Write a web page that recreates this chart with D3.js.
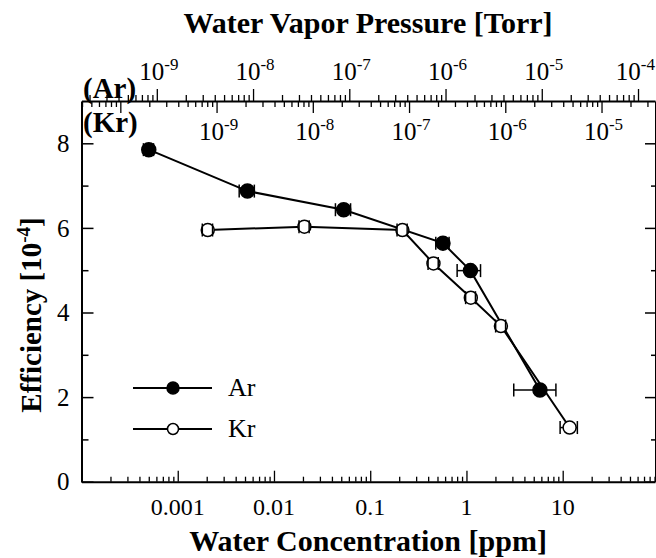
<!DOCTYPE html>
<html>
<head>
<meta charset="utf-8">
<script src="https://cdn.jsdelivr.net/npm/d3@7"></script>
<style>
  body { margin: 0; background: #fff; }
  svg { display: block; font-family: "Liberation Serif", "Times New Roman", serif; }
  .axis path, .axis line { stroke: #000; }
</style>
</head>
<body>
<svg id="chart" width="656" height="558"></svg>
<script>
// Data (water concentration in ppm, efficiency in 1e-4)
const arConc = [5.0e-4, 5.3e-3, 0.053, 0.57, 1.1, 5.8];
const arEff  = [7.85, 6.87, 6.43, 5.64, 4.99, 2.17];
const arErr  = [6e-5, 9.5e-4, 0.0095, 0.09, 0.3, 2.7];

const krConc = [2.05e-3, 0.0207, 0.216, 0.454, 1.11, 2.28, 11.8];
const krEff  = [5.95, 6.03, 5.95, 5.16, 4.35, 3.68, 1.28];
const krErr  = [2.5e-4, 2.5e-3, 0.026, 0.055, 0.13, 0.27, 2.4];

// conversion ppm -> Torr for the two top axes
const arTorrPerPpm = 1.65e-6;
const krTorrPerPpm = 3.95e-7;

// tick labels
const concTicks = [0.001, 0.01, 0.1, 1, 10];
const concTickLabels = ["0.001", "0.01", "0.1", "1", "10"];
const arTickExp = [-9, -8, -7, -6, -5, -4];
const krTickExp = [-9, -8, -7, -6, -5];
const effTicks = [0, 2, 4, 6, 8];
const effMinor = [1, 3, 5, 7];

const xDomain = [1e-4, 91];
const yDomain = [0, 9];

const plotL = 81.5, plotR = 655, plotT = 101, plotB = 481.7;

const svg = d3.select("#chart");

const x = d3.scaleLog().domain(xDomain).range([plotL, plotR]);
const xAr = d3.scaleLog().domain(xDomain.map(v => v * arTorrPerPpm)).range([plotL, plotR]);
const xKr = d3.scaleLog().domain(xDomain.map(v => v * krTorrPerPpm)).range([plotL, plotR]);
const y = d3.scaleLinear().domain(yDomain).range([plotB, plotT]);

const isMajor = d => Math.abs(Math.log10(d) - Math.round(Math.log10(d))) < 1e-6;

// bottom axis (ticks inward)
const gB = svg.append("g").attr("class", "axis")
  .attr("transform", `translate(0,${plotB})`)
  .call(d3.axisBottom(x).tickValues(x.ticks(40)).tickFormat("").tickSizeOuter(0));
gB.selectAll(".tick line").attr("y2", d => isMajor(d) ? -11 : -5).attr("stroke-width", 1.3);
gB.select(".domain").attr("stroke-width", 2);

svg.selectAll(".xlbl").data(concTicks).enter().append("text")
  .attr("x", d => x(d)).attr("y", plotB + 33)
  .attr("text-anchor", "middle").attr("font-size", 24)
  .text((d, i) => concTickLabels[i]);

// top axis: Ar ticks outward, Kr ticks inward
const gA = svg.append("g").attr("class", "axis")
  .attr("transform", `translate(0,${plotT})`)
  .call(d3.axisTop(xAr).tickValues(xAr.ticks(40)).tickFormat("").tickSizeOuter(0));
gA.selectAll(".tick line").attr("y2", d => isMajor(d) ? -12 : -6).attr("stroke-width", 1.3);
gA.select(".domain").attr("stroke-width", 2.2);

const gK = svg.append("g").attr("class", "axis")
  .attr("transform", `translate(0,${plotT})`)
  .call(d3.axisTop(xKr).tickValues(xKr.ticks(40)).tickFormat("").tickSizeOuter(0));
gK.selectAll(".tick line").attr("y2", d => isMajor(d) ? 12 : 6).attr("stroke-width", 1.3);
gK.select(".domain").remove();

function powLabel(xs, yPos, e) {
  const t = svg.append("text").attr("x", xs).attr("y", yPos)
    .attr("text-anchor", "middle").attr("font-size", 25);
  t.append("tspan").text("10");
  t.append("tspan").attr("dy", -10).attr("font-size", 17).text(e);
  // keep the label inside the picture
  const bb = t.node().getBBox();
  if (bb.x + bb.width > 655.5) t.attr("x", xs - (bb.x + bb.width - 655.5));
}
arTickExp.forEach(e => powLabel(xAr(Math.pow(10, e)) + 2, 80, e));
krTickExp.forEach(e => powLabel(xKr(Math.pow(10, e)) + 2, 140, e));

svg.append("text").attr("x", 83).attr("y", 98)
  .attr("font-size", 29).attr("font-weight", "bold").text("(Ar)");
svg.append("text").attr("x", 83).attr("y", 132)
  .attr("font-size", 29).attr("font-weight", "bold").text("(Kr)");

// left axis (ticks inward)
const gL = svg.append("g").attr("class", "axis")
  .attr("transform", `translate(${plotL},0)`)
  .call(d3.axisLeft(y).tickValues(effTicks.concat(effMinor)).tickFormat("").tickSizeOuter(0));
gL.selectAll(".tick line").attr("x2", d => effTicks.includes(d) ? 12 : 7).attr("stroke-width", 1.5);
gL.select(".domain").attr("stroke-width", 2);
svg.selectAll(".ylbl").data(effTicks).enter().append("text")
  .attr("x", plotL - 12).attr("y", d => y(d)).attr("dy", "0.35em")
  .attr("text-anchor", "end").attr("font-size", 25)
  .text(d => d);

// right axis (ticks inward)
const gR = svg.append("g").attr("class", "axis")
  .attr("transform", `translate(${plotR},0)`)
  .call(d3.axisRight(y).tickValues(effTicks.concat(effMinor)).tickFormat("").tickSizeOuter(0));
gR.selectAll(".tick line").attr("x2", d => effTicks.includes(d) ? -10 : -4).attr("stroke-width", 1.5);
gR.select(".domain").attr("stroke", "#bbb").attr("stroke-width", 1);

// axis titles
svg.append("text").attr("x", 368).attr("y", 33)
  .attr("text-anchor", "middle").attr("font-size", 30).attr("font-weight", "bold")
  .text("Water Vapor Pressure [Torr]");
svg.append("text").attr("x", 368).attr("y", 551)
  .attr("text-anchor", "middle").attr("font-size", 30).attr("font-weight", "bold")
  .text("Water Concentration [ppm]");
const yl = svg.append("text")
  .attr("transform", "translate(41,315) rotate(-90)")
  .attr("text-anchor", "middle").attr("font-size", 29).attr("font-weight", "bold");
yl.append("tspan").text("Efficiency  [10");
yl.append("tspan").attr("dy", -11).attr("font-size", 19).text("-4");
yl.append("tspan").attr("dy", 11).text("]");

// series
const series = [
  { name: "Ar", conc: arConc, eff: arEff, err: arErr, fill: "#000", r: 7 },
  { name: "Kr", conc: krConc, eff: krEff, err: krErr, fill: "#fff", r: 6.5 }
];

const line = d3.line().x(d => x(d.c)).y(d => y(d.e));

series.forEach(s => {
  const pts = s.conc.map((c, i) => ({ c: c, e: s.eff[i], err: s.err[i] }));
  const g = svg.append("g");
  g.append("path").datum(pts).attr("d", line)
    .attr("fill", "none").attr("stroke", "#000").attr("stroke-width", 2);
  // error bar bodies
  g.selectAll(".eb").data(pts).enter().append("line")
    .attr("x1", d => x(d.c - d.err)).attr("x2", d => x(d.c + d.err))
    .attr("y1", d => y(d.e)).attr("y2", d => y(d.e))
    .attr("stroke", "#000").attr("stroke-width", 1.5);
  g.selectAll(".pt").data(pts).enter().append("circle")
    .attr("cx", d => x(d.c)).attr("cy", d => y(d.e)).attr("r", s.r)
    .attr("fill", s.fill).attr("stroke", "#000").attr("stroke-width", 1.5);
  // caps
  pts.forEach(d => {
    [d.c - d.err, d.c + d.err].forEach(v => {
      g.append("line")
        .attr("x1", x(v)).attr("x2", x(v))
        .attr("y1", y(d.e) - 6.5).attr("y2", y(d.e) + 6.5)
        .attr("stroke", "#000").attr("stroke-width", 1.5);
    });
  });
});

// legend
const legendRows = [
  { name: "Ar", fill: "#000", r: 6, yy: 388 },
  { name: "Kr", fill: "#fff", r: 5.5, yy: 429 }
];
legendRows.forEach(l => {
  svg.append("line").attr("x1", 133).attr("x2", 212)
    .attr("y1", l.yy).attr("y2", l.yy).attr("stroke", "#000").attr("stroke-width", 2);
  svg.append("circle").attr("cx", 173).attr("cy", l.yy).attr("r", l.r)
    .attr("fill", l.fill).attr("stroke", "#000").attr("stroke-width", 1.5);
  svg.append("text").attr("x", 228).attr("y", l.yy + 8)
    .attr("font-size", 26).text(l.name);
});
</script>
</body>
</html>
